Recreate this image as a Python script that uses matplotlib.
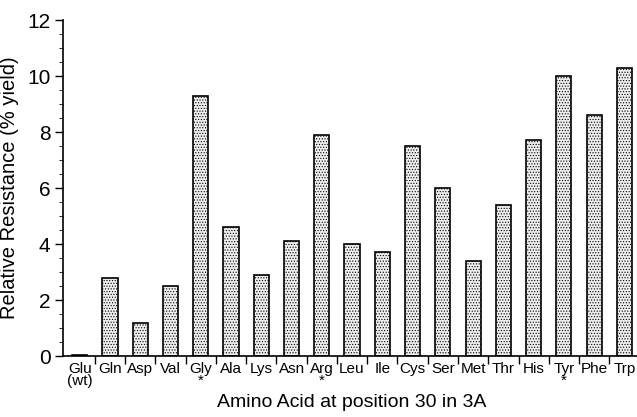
import matplotlib.pyplot as plt
import numpy as np

plt.rcParams['font.family'] = ['Liberation Sans', 'DejaVu Sans']

acids = ["Glu\n(wt)", "Gln", "Asp", "Val", "Gly\n*", "Ala", "Lys", "Asn", "Arg\n*",
         "Leu", "Ile", "Cys", "Ser", "Met", "Thr", "His", "Tyr\n*", "Phe", "Trp"]
resistance = [0.05, 2.8, 1.2, 2.5, 9.3, 4.6, 2.9, 4.1, 7.9,
              4.0, 3.7, 7.5, 6.0, 3.4, 5.4, 7.7, 10.0, 8.6, 10.3]

fig = plt.figure(figsize=(6.37, 4.17), dpi=100)
ax = fig.add_axes([0.099, 0.146, 0.905, 0.806])

x = np.arange(len(acids))
plt.rcParams['hatch.color'] = '#9a9a9a'
plt.rcParams['hatch.linewidth'] = 0.5
ax.bar(x, resistance, width=0.5, color='#eeeeee', edgecolor='black',
       linewidth=1.2, hatch='......')

ax.set_xlim(-0.55, 18.45)
ax.set_ylim(0, 12)
ax.set_yticks([0, 2, 4, 6, 8, 10, 12])
ax.set_yticks(np.arange(0, 12.01, 0.5), minor=True)
ax.tick_params(axis='y', labelsize=15, length=6, width=1, direction='out', pad=3)
ax.tick_params(axis='y', which='minor', length=3)

# ticks between categories, labels at centers
ax.set_xticks(x + 0.5)
ax.set_xticklabels([])
ax.set_xticks(x, minor=True)
ax.set_xticklabels(acids, minor=True, fontsize=11, va='top', linespacing=0.85)
ax.tick_params(axis='x', which='major', length=6, width=1)
ax.tick_params(axis='x', which='minor', length=0, pad=4)

ax.spines['top'].set_visible(False)
ax.spines['right'].set_visible(False)
ax.spines['left'].set_linewidth(1.2)
ax.spines['bottom'].set_linewidth(1.2)

ax.set_ylabel("Relative Resistance (% yield)", fontsize=14.5, labelpad=6)
ax.set_xlabel("Amino Acid at position 30 in 3A", fontsize=14, labelpad=4)

plt.savefig("out.png", dpi=100)
